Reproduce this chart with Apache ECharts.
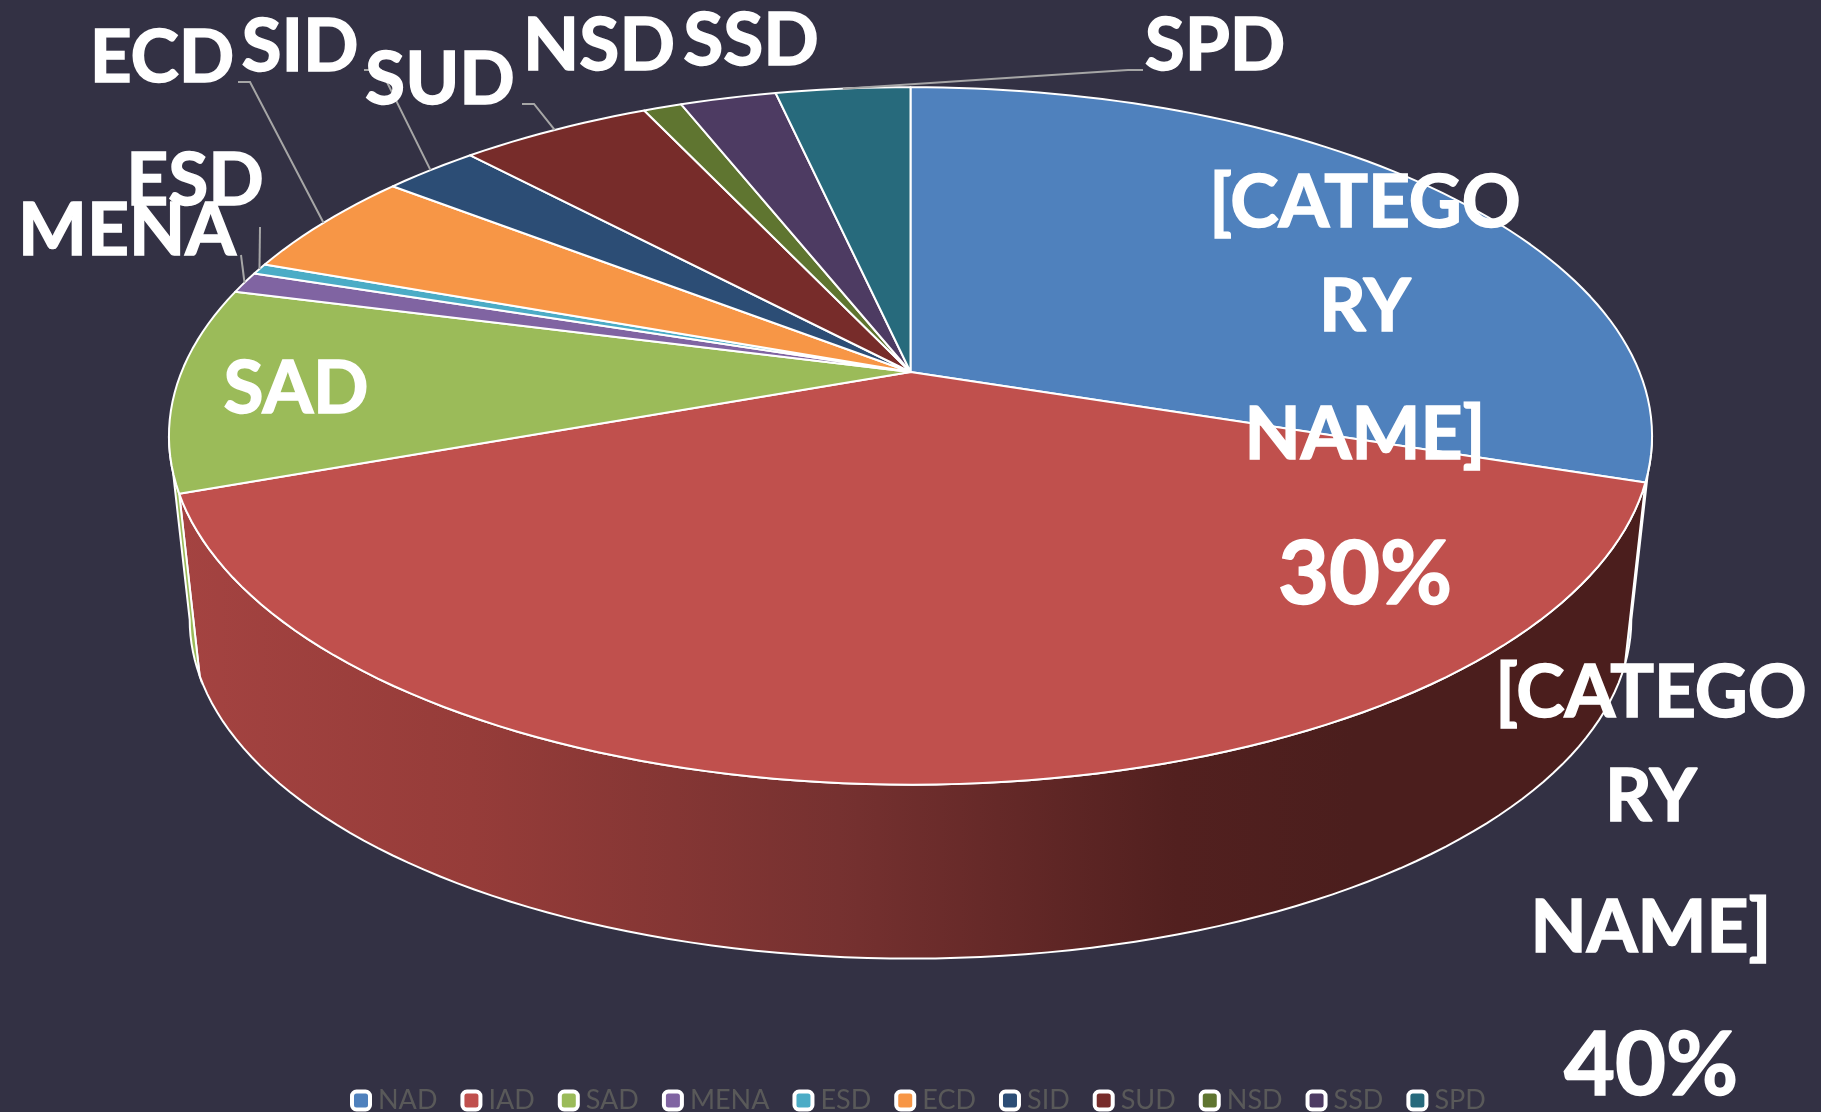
<!DOCTYPE html>
<html>
<head>
<meta charset="utf-8">
<style>html,body{margin:0;padding:0;background:#333144}#c{width:1821px;height:1112px}</style>
<script src="https://cdn.jsdelivr.net/npm/echarts@6/dist/echarts.min.js"></script>
</head>
<body>
<div id="c"></div>
<script>
// --- chart data ---
const categories = ['NAD','IAD','SAD','MENA','ESD','ECD','SID','SUD','NSD','SSD','SPD'];
const shares = [30,39.5,9.5,1,0.5,5,2.5,5,1,2.5,3.5];
const colors = ['#4f81bd','#c0504d','#9bbb59','#8064a2','#4bacc6','#f79646','#2c4d75','#772c2a','#5f7530','#4d3b62','#276a7c'];
const labelTexts = {
  NAD:['[CATEGO','RY','NAME]','30%'], IAD:['[CATEGO','RY','NAME]','40%'], SAD:['SAD'],
  MENA:['MENA'], ESD:['ESD'], ECD:['ECD'], SID:['SID'], SUD:['SUD'], NSD:['NSD'], SSD:['SSD'], SPD:['SPD']
};

// --- layout ---
const FONT = 'Lato, "Open Sans", sans-serif';
const labelLayout = {
  NAD:{x:1365,y:[203,307,435,576]}, IAD:{x:1651,y:[693,797,928,1067]}, SAD:{x:296,y:[389]},
  MENA:{x:127,y:[231]}, ESD:{x:195,y:[181]}, ECD:{x:162,y:[58]}, SID:{x:300,y:[47]},
  SUD:{x:440,y:[80]}, NSD:{x:599,y:[46]}, SSD:{x:751,y:[41]}, SPD:{x:1215,y:[46]}
};
const leaderElbows = {
  MENA:[[241,255]], ESD:[[260,227]], ECD:[[238,82],[250,82]], SID:[[364,70],[381,70]],
  SUD:[[522,104],[534,104]], SPD:[[1143,70],[1128,70]]
};
// perspective model of the disc: apex, half-axes, foreshortening
const CX = 910.5, TOP_Y = 372, AX = 729, BY = 337, K = 0.1833;
const BASE_Y = 557.5, BASE_SCALE = 0.972;
const TANGENT = Math.acos(K) * 180 / Math.PI;
const WALL_FROM = 180 - TANGENT, WALL_TO = 180 + TANGENT;

function project(deg, level) {
  const t = deg * Math.PI / 180, x = Math.sin(t), y = -Math.cos(t);
  const d = 1 - K * y;
  const s = level === 'base' ? BASE_SCALE : 1;
  const y0 = level === 'base' ? BASE_Y : TOP_Y;
  return [CX + s * AX * x / d, y0 + s * BY * y / d];
}
function arc(a0, a1, level) {
  const n = Math.max(2, Math.ceil(Math.abs(a1 - a0) / 1.5));
  const pts = [];
  for (let i = 0; i <= n; i++) pts.push(project(a0 + (a1 - a0) * i / n, level));
  return pts;
}
const total = shares.reduce((a, b) => a + b, 0);
function startAngle(idx) {
  let s = 0;
  for (let i = 0; i < idx; i++) s += shares[i];
  return s / total * 360;
}
function wallFill(name, color) {
  if (name === 'IAD') {
    return new echarts.graphic.LinearGradient(0, 0, 1, 0, [
      {offset:0, color:'#a44341'}, {offset:0.2, color:'#963c39'},
      {offset:0.45, color:'#763130'}, {offset:0.68, color:'#52201f'},
      {offset:0.8, color:'#4b1e1d'}, {offset:1, color:'#4b1e1d'}
    ]);
  }
  return color;
}

function makeRenderer(idx) {
  const name = categories[idx];
  return function (params, api) {
    const a0 = startAngle(idx);
    const a1 = a0 + api.value(0) / total * 360;
    const children = [];
    // side wall
    const w0 = Math.max(a0, WALL_FROM), w1 = Math.min(a1, WALL_TO);
    if (w1 > w0) {
      children.push({
        type:'polygon', z2:1,
        shape:{points: arc(w0, w1, 'top').concat(arc(w1, w0, 'base'))},
        style:{fill: wallFill(name, colors[idx]), stroke:'#ffffff', lineWidth:2}
      });
    }
    // top face
    children.push({
      type:'polygon', z2:10,
      shape:{points: [[CX, TOP_Y]].concat(arc(a0, a1, 'top'))},
      style:{fill: colors[idx], stroke:'#ffffff', lineWidth:2, lineJoin:'round'}
    });
    // leader line
    if (leaderElbows[name]) {
      children.push({
        type:'polyline', z2:12,
        shape:{points: leaderElbows[name].concat([project((a0 + a1) / 2, 'top')])},
        style:{fill:null, stroke:'#a6a6a6', lineWidth:2}
      });
    }
    // labels
    const lay = labelLayout[name];
    labelTexts[name].forEach(function (line, i) {
      const isPct = /%$/.test(line);
      children.push({
        type:'text', z2:20,
        style:{
          text: line, x: lay.x, y: lay.y[i], align:'center', verticalAlign:'middle',
          fill:'#ffffff', stroke:'#ffffff', lineWidth:1.5,
          font:'bold ' + (isPct ? 88 : 73) + 'px ' + FONT
        }
      });
    });
    return {type:'group', children: children};
  };
}

const chart = echarts.init(document.getElementById('c'), null, {renderer:'canvas'});
chart.setOption({
  backgroundColor:'#333144',
  animation:false,
  legend:{
    show:true, left:350, top:1087,
    data: categories,
    icon:'roundRect', itemWidth:18, itemHeight:18, itemGap:23, padding:0,
    itemStyle:{borderColor:'#ffffff', borderWidth:4},
    textStyle:{color:'#595959', fontFamily:FONT, fontSize:27, padding:[0,0,0,3]},
    selectedMode:false
  },
  series: categories.map(function (name, idx) {
    return {
      type:'custom', name:name, coordinateSystem:'none', clip:false, silent:true,
      itemStyle:{color:colors[idx]},
      data:[[shares[idx]]],
      encode:{value:0},
      renderItem:makeRenderer(idx)
    };
  })
});
</script>
</body>
</html>
